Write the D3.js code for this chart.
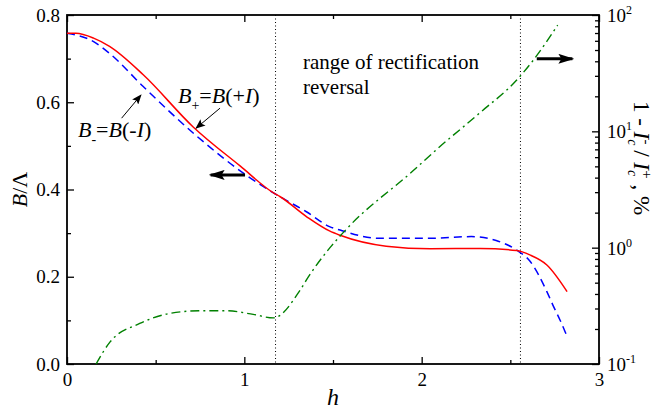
<!DOCTYPE html>
<html>
<head>
<meta charset="utf-8">
<script src="https://cdn.jsdelivr.net/npm/d3@7"></script>
<style>
  body { margin: 0; background: #fff; }
</style>
</head>
<body>
<div id="chart"></div>
<script>
const FONT = "Liberation Serif";

// B+ = B(+I), solid red (left axis)
const hPlus = [0, 0.05, 0.15, 0.24, 0.43, 0.71, 0.976, 1.169, 1.2, 1.35, 1.48, 1.54, 1.8, 2.05, 2.33, 2.536, 2.61, 2.706, 2.82];
const bPlus = [0.758, 0.758, 0.747, 0.728, 0.663, 0.544, 0.454, 0.391, 0.384, 0.338, 0.305, 0.295, 0.270, 0.264, 0.265, 0.260, 0.250, 0.227, 0.166];

// B- = B(-I), dashed blue (left axis)
const hMinus = [0, 0.15, 0.24, 0.43, 0.73, 1.01, 1.169, 1.35, 1.48, 1.54, 1.765, 2.05, 2.28, 2.42, 2.536, 2.61, 2.706, 2.74, 2.78, 2.82];
const bMinus = [0.758, 0.739, 0.712, 0.636, 0.523, 0.433, 0.391, 0.349, 0.315, 0.307, 0.288, 0.288, 0.292, 0.283, 0.261, 0.236, 0.166, 0.135, 0.101, 0.063];

// 1 - Ic-/Ic+ in %, dash-dot green (right log axis)
const hRatio = [0.164, 0.243, 0.41, 0.58, 0.75, 0.90, 1.05, 1.164, 1.314, 1.361, 1.483, 1.577, 1.953, 2.085, 2.33, 2.536, 2.63, 2.767];
const vRatio = [0.1, 0.155, 0.223, 0.272, 0.287, 0.287, 0.267, 0.249, 0.43, 0.56, 1.0, 1.45, 4.6, 7.0, 14.5, 27.6, 41, 82];

// ticks
const xMajor = [0, 1, 2, 3];
const xMinor = [0.5, 1.5, 2.5];
const yLeftMajor = [0, 0.2, 0.4, 0.6, 0.8];
const yLeftMinor = [0.1, 0.3, 0.5, 0.7];
const yRightMajor = [0.1, 1, 10, 100];
const yRightExp = ["-1", "0", "1", "2"];

// bounds of the rectification reversal range
const hBounds = [1.176, 2.557];

const width = 660, height = 410;
const margin = {top: 15, right: 61, bottom: 46, left: 67};

const x = d3.scaleLinear().domain([0, 3]).range([margin.left, width - margin.right]);
const yL = d3.scaleLinear().domain([0, 0.8]).range([height - margin.bottom, margin.top]);
const yR = d3.scaleLog().domain([0.1, 100]).range([height - margin.bottom, margin.top]);

const svg = d3.select("#chart").append("svg")
  .attr("width", width).attr("height", height);

const defs = svg.append("defs");
defs.append("marker").attr("id", "bighead")
  .attr("markerUnits", "userSpaceOnUse")
  .attr("viewBox", "0 0 16 10").attr("refX", 14).attr("refY", 5)
  .attr("markerWidth", 16).attr("markerHeight", 10).attr("orient", "auto")
  .append("path").attr("d", "M0,0 L16,5 L0,10 L3,5 Z").attr("fill", "#000");
defs.append("marker").attr("id", "smallhead")
  .attr("markerUnits", "userSpaceOnUse")
  .attr("viewBox", "0 0 10 8").attr("refX", 9).attr("refY", 4)
  .attr("markerWidth", 10).attr("markerHeight", 8).attr("orient", "auto")
  .append("path").attr("d", "M0,0 L10,4 L0,8 L2,4 Z").attr("fill", "#000");

// axes, all ticks pointing inward
function tickStyle(g) {
  g.attr("font-family", FONT).attr("font-size", 19);
  g.select(".domain").remove();
  g.selectAll(".tick line").attr("stroke", "#000").attr("stroke-width", 1.3);
  g.selectAll(".tick text").attr("fill", "#000");
}
const bottom = height - margin.bottom, right = width - margin.right;

svg.append("g").attr("transform", `translate(0,${bottom})`)
  .call(d3.axisBottom(x).tickValues(xMajor).tickSize(-7).tickPadding(9).tickFormat(d3.format("d")))
  .call(tickStyle);
svg.append("g").attr("transform", `translate(0,${bottom})`)
  .call(d3.axisBottom(x).tickValues(xMinor).tickSize(-4).tickFormat(""))
  .call(tickStyle);
svg.append("g").attr("transform", `translate(0,${margin.top})`)
  .call(d3.axisTop(x).tickValues(xMajor).tickSize(-7).tickFormat(""))
  .call(tickStyle);
svg.append("g").attr("transform", `translate(0,${margin.top})`)
  .call(d3.axisTop(x).tickValues(xMinor).tickSize(-4).tickFormat(""))
  .call(tickStyle);

svg.append("g").attr("transform", `translate(${margin.left},0)`)
  .call(d3.axisLeft(yL).tickValues(yLeftMajor).tickSize(-7).tickPadding(7).tickFormat(d3.format(".1f")))
  .call(tickStyle);
svg.append("g").attr("transform", `translate(${margin.left},0)`)
  .call(d3.axisLeft(yL).tickValues(yLeftMinor).tickSize(-4).tickFormat(""))
  .call(tickStyle);

const rightMinor = [];
yRightMajor.slice(0, 3).forEach(d => { for (let k = 2; k <= 9; k++) rightMinor.push(d * k); });
svg.append("g").attr("transform", `translate(${right},0)`)
  .call(d3.axisRight(yR).tickValues(rightMinor).tickSize(-4).tickFormat(""))
  .call(tickStyle);
const rAxis = svg.append("g").attr("transform", `translate(${right},0)`)
  .call(d3.axisRight(yR).tickValues(yRightMajor).tickSize(-7).tickPadding(8).tickFormat(""))
  .call(tickStyle);
rAxis.selectAll(".tick text").each(function(d, i) {
  const t = d3.select(this).attr("dy", "0.35em");
  t.append("tspan").text("10");
  t.append("tspan").attr("dy", -8).attr("font-size", 12).text(yRightExp[i]);
});

// frame
svg.append("rect")
  .attr("x", margin.left).attr("y", margin.top)
  .attr("width", right - margin.left).attr("height", bottom - margin.top)
  .attr("fill", "none").attr("stroke", "#000").attr("stroke-width", 1.8);

// dotted bounds
svg.selectAll(".bound").data(hBounds).enter().append("line")
  .attr("class", "bound")
  .attr("x1", d => x(d)).attr("x2", d => x(d))
  .attr("y1", margin.top).attr("y2", bottom)
  .attr("stroke", "#000").attr("stroke-width", 1).attr("stroke-dasharray", "1,2.5");

// curves
const lineLeft = d3.line().x(d => x(d[0])).y(d => yL(d[1])).curve(d3.curveMonotoneX);
const lineRight = d3.line().x(d => x(d[0])).y(d => yR(d[1])).curve(d3.curveMonotoneX);

svg.append("path").datum(d3.zip(hMinus, bMinus))
  .attr("d", lineLeft).attr("fill", "none")
  .attr("stroke", "#0000ff").attr("stroke-width", 1.5).attr("stroke-dasharray", "8,5");
svg.append("path").datum(d3.zip(hPlus, bPlus))
  .attr("d", lineLeft).attr("fill", "none")
  .attr("stroke", "#ff0000").attr("stroke-width", 1.5);
svg.append("path").datum(d3.zip(hRatio, vRatio))
  .attr("d", lineRight).attr("fill", "none")
  .attr("stroke", "#008000").attr("stroke-width", 1.4).attr("stroke-dasharray", "9,4,2,4");

// thick arrows showing which axis belongs to which curves
svg.append("line")
  .attr("x1", x(1.004)).attr("x2", x(0.81)).attr("y1", yL(0.4335)).attr("y2", yL(0.4335))
  .attr("stroke", "#000").attr("stroke-width", 3).attr("marker-end", "url(#bighead)");
svg.append("line")
  .attr("x1", x(2.649)).attr("x2", x(2.85)).attr("y1", yR(42)).attr("y2", yR(42))
  .attr("stroke", "#000").attr("stroke-width", 3).attr("marker-end", "url(#bighead)");

// thin pointer arrows
svg.append("line")
  .attr("x1", x(0.308)).attr("y1", yL(0.5635)).attr("x2", x(0.417)).attr("y2", yL(0.6165))
  .attr("stroke", "#000").attr("stroke-width", 1).attr("marker-end", "url(#smallhead)");
svg.append("line")
  .attr("x1", x(0.863)).attr("y1", yL(0.5865)).attr("x2", x(0.728)).attr("y2", yL(0.5406))
  .attr("stroke", "#000").attr("stroke-width", 1).attr("marker-end", "url(#smallhead)");

// curve labels
function curveLabel(h, b, sub, sign) {
  const t = svg.append("text").attr("x", x(h)).attr("y", yL(b))
    .attr("font-family", FONT).attr("font-size", 22);
  t.append("tspan").attr("font-style", "italic").text("B");
  t.append("tspan").attr("font-size", 14).attr("dy", 7).text(sub);
  t.append("tspan").attr("dy", -7).text("=");
  t.append("tspan").attr("font-style", "italic").text("B");
  t.append("tspan").text("(" + sign);
  t.append("tspan").attr("font-style", "italic").text("I");
  t.append("tspan").text(")");
}
curveLabel(0.626, 0.599, "+", "+");
curveLabel(0.062, 0.521, "-", "-");

svg.append("text").attr("x", x(1.331)).attr("y", yL(0.677))
  .attr("font-family", FONT).attr("font-size", 21)
  .text("range of rectification");
svg.append("text").attr("x", x(1.331)).attr("y", yL(0.619))
  .attr("font-family", FONT).attr("font-size", 21)
  .text("reversal");

// axis titles
svg.append("text").attr("x", x(1.5)).attr("y", 405).attr("text-anchor", "middle")
  .attr("font-family", FONT).attr("font-size", 24).attr("font-style", "italic").text("h");

const yTitle = svg.append("text")
  .attr("transform", `translate(27,${(margin.top + bottom) / 2}) rotate(-90)`)
  .attr("text-anchor", "middle").attr("font-family", FONT).attr("font-size", 22);
yTitle.append("tspan").attr("font-style", "italic").text("B");
yTitle.append("tspan").text("/Λ");

const rTitle = svg.append("text")
  .attr("transform", `translate(634,158) rotate(90)`)
  .attr("text-anchor", "middle").attr("font-family", FONT).attr("font-size", 23);
rTitle.append("tspan").text("1 - ");
rTitle.append("tspan").attr("font-style", "italic").text("I");
rTitle.append("tspan").attr("font-style", "italic").attr("font-size", 14).attr("dy", 6).text("c");
rTitle.append("tspan").attr("font-size", 15).attr("dx", -6).attr("dy", -14).text("-");
rTitle.append("tspan").attr("dy", 8).text(" / ");
rTitle.append("tspan").attr("font-style", "italic").text("I");
rTitle.append("tspan").attr("font-style", "italic").attr("font-size", 14).attr("dy", 6).text("c");
rTitle.append("tspan").attr("font-size", 15).attr("dx", -6).attr("dy", -14).text("+");
rTitle.append("tspan").attr("dy", 8).text(" , %");
</script>
</body>
</html>
